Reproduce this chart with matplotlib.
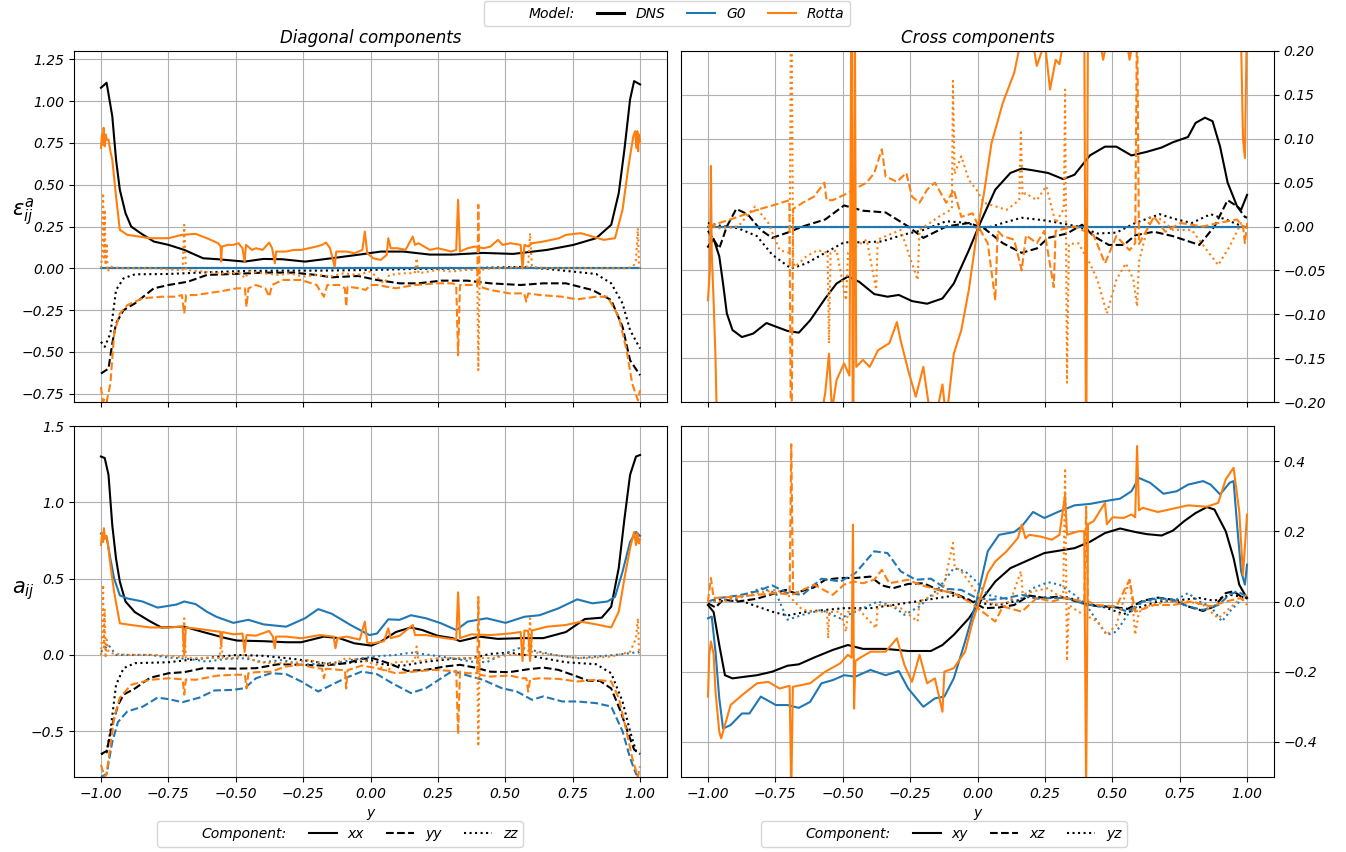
import matplotlib
matplotlib.use('Agg')
import matplotlib.pyplot as plt
from matplotlib.lines import Line2D

plt.rcParams['font.family'] = ['DejaVu Sans']
plt.rcParams['font.style'] = 'italic'
plt.rcParams['mathtext.fontset'] = 'dejavusans'

# ---------------- labels ----------------
models = ['DNS', 'G0', 'Rotta']
diag_components = ['xx', 'yy', 'zz']
cross_components = ['xy', 'xz', 'yz']
x_ticks = [-1.0, -0.75, -0.5, -0.25, 0.0, 0.25, 0.5, 0.75, 1.0]
tl_yticks = [-0.75, -0.5, -0.25, 0.0, 0.25, 0.5, 0.75, 1.0, 1.25]
tr_yticks = [-0.2, -0.15, -0.1, -0.05, 0.0, 0.05, 0.1, 0.15, 0.2]
bl_yticks = [-0.5, 0.0, 0.5, 1.0, 1.5]
br_yticks = [-0.4, -0.2, 0.0, 0.2, 0.4]

# ================= TOP-LEFT: eps^a diagonal =================
pos_tl_dns_xx = [-1.0, -0.979, -0.958, -0.944, -0.93, -0.909, -0.888, -0.853, -0.804, -0.749, -0.691, -0.621, -0.565, -0.467, -0.397, -0.327, -0.243, -0.144, -0.032, 0.038, 0.122, 0.22, 0.304, 0.417, 0.529, 0.655, 0.753, 0.837, 0.893, 0.921, 0.942, 0.963, 0.978, 1.0]
tl_dns_xx = [1.08, 1.11, 0.91, 0.65, 0.47, 0.33, 0.25, 0.21, 0.16, 0.14, 0.11, 0.06, 0.054, 0.04, 0.056, 0.054, 0.04, 0.06, 0.084, 0.10, 0.10, 0.082, 0.082, 0.092, 0.086, 0.11, 0.14, 0.18, 0.26, 0.45, 0.71, 1.01, 1.12, 1.10]
pos_tl_dns_yy = [-1.0, -0.972, -0.958, -0.944, -0.916, -0.874, -0.804, -0.749, -0.677, -0.607, -0.509, -0.397, -0.285, -0.201, -0.144, -0.046, 0.024, 0.108, 0.178, 0.262, 0.36, 0.445, 0.557, 0.641, 0.725, 0.823, 0.893, 0.935, 0.963, 1.0]
tl_dns_yy = [-0.63, -0.60, -0.45, -0.33, -0.25, -0.21, -0.12, -0.10, -0.08, -0.04, -0.034, -0.026, -0.026, -0.04, -0.054, -0.046, -0.07, -0.09, -0.09, -0.074, -0.074, -0.09, -0.10, -0.09, -0.09, -0.13, -0.19, -0.35, -0.55, -0.64]
pos_tl_dns_zz = [-1.0, -0.986, -0.965, -0.944, -0.916, -0.874, -0.749, -0.607, -0.467, -0.327, -0.187, 0.0, 0.164, 0.304, 0.445, 0.557, 0.655, 0.753, 0.837, 0.893, 0.935, 0.963, 1.0]
tl_dns_zz = [-0.44, -0.47, -0.39, -0.13, -0.06, -0.036, -0.034, -0.024, -0.016, -0.014, -0.014, -0.01, -0.004, -0.002, 0.004, 0.008, -0.004, -0.02, -0.034, -0.09, -0.21, -0.37, -0.48]

pos_g0_zero = [-1.0, 1.0]
tl_g0_xx = [0.0, 0.0]
tl_g0_yy = [0.0, 0.0]
tl_g0_zz = [0.0, 0.0]

pos_tl_rot_xx = [-1.0, -0.996, -0.993, -0.99, -0.986, -0.982, -0.979, -0.972, -0.965, -0.958, -0.944, -0.93, -0.902, -0.818, -0.749, -0.70, -0.649, -0.607, -0.565, -0.556, -0.554, -0.551, -0.53, -0.509, -0.49, -0.475, -0.467, -0.462, -0.44, -0.425, -0.40, -0.376, -0.365, -0.355, -0.35, -0.313, -0.285, -0.257, -0.229, -0.201, -0.18, -0.165, -0.15, -0.133, -0.127, -0.088, -0.06, -0.03, -0.021, -0.012, 0.01, 0.038, 0.06, 0.066, 0.075, 0.10, 0.13, 0.157, 0.165, 0.178, 0.22, 0.25, 0.276, 0.30, 0.318, 0.325, 0.332, 0.36, 0.388, 0.42, 0.445, 0.473, 0.49, 0.52, 0.557, 0.564, 0.571, 0.585, 0.60, 0.641, 0.70, 0.725, 0.781, 0.823, 0.865, 0.907, 0.935, 0.957, 0.975, 0.982, 0.986, 0.99, 0.993, 0.996, 1.0]
tl_rot_xx = [0.72, 0.80, 0.74, 0.84, 0.73, 0.80, 0.77, 0.77, 0.70, 0.65, 0.43, 0.23, 0.20, 0.18, 0.18, 0.20, 0.206, 0.18, 0.15, 0.13, 0.04, 0.13, 0.14, 0.14, 0.15, 0.12, 0.04, 0.14, 0.11, 0.12, 0.11, 0.154, 0.12, 0.03, 0.10, 0.10, 0.11, 0.11, 0.12, 0.13, 0.14, 0.154, 0.12, 0.01, 0.10, 0.10, 0.09, 0.11, 0.22, 0.09, 0.06, 0.05, 0.08, 0.18, 0.12, 0.12, 0.11, 0.19, 0.14, 0.15, 0.11, 0.12, 0.11, 0.10, 0.11, 0.41, 0.10, 0.12, 0.13, 0.12, 0.13, 0.17, 0.14, 0.15, 0.14, 0.0, 0.14, 0.13, 0.15, 0.16, 0.18, 0.20, 0.21, 0.19, 0.17, 0.18, 0.35, 0.61, 0.79, 0.82, 0.72, 0.82, 0.70, 0.80, 0.76]
pos_tl_rot_yy = [-1.0, -0.993, -0.986, -0.979, -0.965, -0.951, -0.93, -0.902, -0.846, -0.776, -0.72, -0.70, -0.691, -0.684, -0.649, -0.565, -0.495, -0.466, -0.46, -0.453, -0.425, -0.39, -0.376, -0.365, -0.327, -0.257, -0.2, -0.173, -0.16, -0.116, -0.095, -0.09, -0.085, -0.04, -0.018, 0.0, 0.024, 0.094, 0.164, 0.248, 0.304, 0.318, 0.325, 0.332, 0.37, 0.396, 0.40, 0.405, 0.445, 0.515, 0.57, 0.578, 0.585, 0.627, 0.711, 0.767, 0.837, 0.879, 0.921, 0.95, 0.971, 0.992, 1.0]
tl_rot_yy = [-0.71, -0.80, -0.78, -0.80, -0.69, -0.39, -0.27, -0.22, -0.18, -0.17, -0.17, -0.16, -0.27, -0.16, -0.16, -0.14, -0.12, -0.12, -0.23, -0.12, -0.10, -0.12, -0.17, -0.10, -0.07, -0.07, -0.10, -0.17, -0.10, -0.10, -0.12, -0.23, -0.11, -0.12, -0.13, -0.10, -0.10, -0.12, -0.10, -0.09, -0.09, -0.10, -0.52, -0.10, -0.10, -0.10, 0.38, -0.11, -0.13, -0.15, -0.15, -0.20, -0.15, -0.16, -0.17, -0.186, -0.17, -0.17, -0.29, -0.49, -0.69, -0.79, -0.73]
pos_tl_rot_zz = [-1.0, -0.995, -0.992, -0.989, -0.986, -0.983, -0.979, -0.975, -0.965, -0.93, -0.80, -0.72, -0.697, -0.691, -0.685, -0.62, -0.55, -0.48, -0.467, -0.45, -0.40, -0.34, -0.30, -0.25, -0.20, -0.15, -0.10, -0.05, 0.0, 0.05, 0.07, 0.12, 0.164, 0.171, 0.178, 0.25, 0.30, 0.35, 0.396, 0.40, 0.405, 0.45, 0.52, 0.585, 0.592, 0.599, 0.65, 0.75, 0.85, 0.95, 0.975, 0.985, 0.992, 0.996, 1.0]
tl_rot_zz = [0.0, 0.10, 0.45, 0.05, 0.35, 0.02, 0.15, -0.02, 0.01, 0.0, 0.0, -0.01, -0.01, 0.26, -0.01, -0.02, -0.03, -0.03, -0.06, -0.02, -0.03, -0.04, -0.03, -0.05, -0.04, -0.05, -0.03, -0.04, -0.02, -0.09, -0.04, -0.03, -0.03, 0.06, -0.03, -0.01, -0.02, -0.01, -0.01, -0.61, -0.01, 0.0, 0.005, 0.01, 0.21, 0.01, 0.0, 0.0, 0.0, 0.0, 0.01, 0.05, 0.24, 0.02, 0.0]

# ================= TOP-RIGHT: eps^a cross =================
pos_tr_dns_xy = [-1.0, -0.979, -0.958, -0.944, -0.93, -0.909, -0.874, -0.832, -0.783, -0.749, -0.705, -0.663, -0.621, -0.565, -0.523, -0.481, -0.439, -0.383, -0.334, -0.292, -0.243, -0.187, -0.13, -0.088, -0.032, 0.01, 0.066, 0.122, 0.164, 0.206, 0.262, 0.318, 0.36, 0.417, 0.473, 0.515, 0.571, 0.627, 0.683, 0.725, 0.781, 0.809, 0.844, 0.872, 0.9, 0.928, 0.963, 0.978, 1.0]
tr_dns_xy = [-0.023, -0.014, -0.034, -0.065, -0.099, -0.118, -0.126, -0.122, -0.11, -0.114, -0.119, -0.121, -0.107, -0.082, -0.065, -0.057, -0.063, -0.077, -0.08, -0.078, -0.085, -0.088, -0.082, -0.065, -0.027, 0.004, 0.042, 0.061, 0.066, 0.064, 0.061, 0.054, 0.059, 0.081, 0.091, 0.091, 0.081, 0.085, 0.09, 0.096, 0.102, 0.118, 0.124, 0.12, 0.091, 0.05, 0.023, 0.019, 0.036]
pos_tr_dns_xz = [-1.0, -0.958, -0.93, -0.895, -0.853, -0.804, -0.762, -0.705, -0.649, -0.565, -0.495, -0.425, -0.341, -0.257, -0.201, -0.116, -0.032, 0.024, 0.094, 0.164, 0.22, 0.262, 0.332, 0.388, 0.431, 0.487, 0.543, 0.585, 0.655, 0.725, 0.823, 0.879, 0.928, 0.963, 0.992, 1.0]
tr_dns_xz = [-0.005, -0.025, 0.0, 0.02, 0.014, -0.004, -0.013, -0.007, 0.0, 0.008, 0.024, 0.018, 0.016, 0.0, -0.013, 0.0, 0.004, -0.002, -0.019, -0.03, -0.025, -0.013, -0.008, 0.002, -0.011, -0.021, -0.021, -0.01, -0.006, -0.011, -0.021, 0.0, 0.03, 0.023, 0.011, 0.01]
pos_tr_dns_yz = [-1.0, -0.958, -0.888, -0.818, -0.762, -0.691, -0.635, -0.565, -0.495, -0.425, -0.355, -0.271, -0.201, -0.116, -0.032, 0.01, 0.094, 0.164, 0.248, 0.304, 0.374, 0.445, 0.515, 0.585, 0.676, 0.739, 0.795, 0.865, 0.921, 1.0]
tr_dns_yz = [0.004, 0.001, -0.002, -0.011, -0.032, -0.048, -0.042, -0.03, -0.018, -0.018, -0.017, -0.009, -0.004, 0.006, 0.004, -0.004, 0.004, 0.01, 0.007, 0.004, 0.0, -0.008, -0.007, 0.004, 0.014, 0.008, 0.004, 0.014, 0.008, -0.002]

tr_g0_xy = [0.0, 0.0]
tr_g0_xz = [0.0, 0.0]
tr_g0_yz = [0.0, 0.0]

pos_tr_rot_xy = [-1.0, -0.993, -0.989, -0.986, -0.979, -0.972, -0.965, -0.93, -0.85, -0.75, -0.65, -0.60, -0.565, -0.551, -0.54, -0.523, -0.495, -0.475, -0.467, -0.462, -0.455, -0.45, -0.425, -0.40, -0.369, -0.327, -0.299, -0.285, -0.257, -0.229, -0.201, -0.173, -0.15, -0.13, -0.116, -0.088, -0.06, -0.032, -0.004, 0.024, 0.052, 0.094, 0.136, 0.16, 0.20, 0.22, 0.25, 0.269, 0.29, 0.304, 0.33, 0.37, 0.396, 0.403, 0.41, 0.45, 0.466, 0.50, 0.55, 0.564, 0.60, 0.70, 0.80, 0.90, 0.96, 0.978, 0.985, 0.992, 1.0]
tr_rot_xy = [-0.084, -0.05, 0.069, -0.03, -0.085, -0.15, -0.25, -0.30, -0.32, -0.30, -0.28, -0.25, -0.19, -0.145, -0.21, -0.175, -0.156, -0.17, 0.30, -0.35, 0.25, -0.16, -0.152, -0.16, -0.141, -0.133, -0.109, -0.13, -0.164, -0.194, -0.16, -0.22, -0.21, -0.18, -0.22, -0.145, -0.118, -0.072, -0.011, 0.038, 0.095, 0.141, 0.175, 0.21, 0.22, 0.183, 0.21, 0.156, 0.19, 0.185, 0.23, 0.25, 0.25, -0.30, 0.25, 0.22, 0.19, 0.24, 0.22, 0.19, 0.25, 0.28, 0.27, 0.26, 0.25, 0.21, 0.10, 0.078, 0.25]
pos_tr_rot_xz = [-1.0, -0.958, -0.888, -0.818, -0.749, -0.698, -0.691, -0.684, -0.649, -0.607, -0.568, -0.56, -0.537, -0.495, -0.46, -0.411, -0.383, -0.355, -0.341, -0.299, -0.264, -0.243, -0.215, -0.187, -0.158, -0.116, -0.088, -0.06, -0.018, 0.01, 0.038, 0.066, 0.075, 0.094, 0.136, 0.164, 0.18, 0.22, 0.248, 0.283, 0.29, 0.304, 0.36, 0.431, 0.473, 0.515, 0.564, 0.585, 0.592, 0.599, 0.655, 0.697, 0.753, 0.837, 0.893, 0.963, 0.985, 0.992, 1.0]
tr_rot_xz = [0.0, 0.004, 0.011, 0.019, 0.025, 0.03, -0.30, 0.02, 0.027, 0.034, 0.05, 0.03, 0.03, 0.036, 0.042, 0.05, 0.061, 0.088, 0.057, 0.051, 0.061, 0.034, 0.027, 0.042, 0.05, 0.027, 0.042, 0.011, 0.015, -0.004, -0.019, -0.084, -0.005, -0.011, -0.015, -0.05, -0.01, -0.019, -0.005, -0.069, -0.005, -0.004, 0.0, -0.01, -0.042, -0.011, -0.027, -0.019, 0.25, -0.02, 0.011, -0.006, 0.004, 0.0, 0.004, 0.008, 0.0, -0.019, 0.004]
pos_tr_rot_yz = [-1.0, -0.958, -0.888, -0.825, -0.776, -0.734, -0.697, -0.691, -0.684, -0.677, -0.635, -0.593, -0.556, -0.551, -0.545, -0.523, -0.488, -0.48, -0.453, -0.411, -0.376, -0.37, -0.341, -0.285, -0.222, -0.215, -0.144, -0.095, -0.091, -0.085, -0.06, -0.032, -0.004, 0.024, 0.066, 0.108, 0.155, 0.161, 0.167, 0.178, 0.22, 0.255, 0.29, 0.32, 0.325, 0.332, 0.339, 0.374, 0.417, 0.445, 0.48, 0.515, 0.55, 0.578, 0.592, 0.599, 0.641, 0.683, 0.725, 0.795, 0.851, 0.893, 0.935, 0.978, 1.0]
tr_rot_yz = [0.002, -0.002, 0.0, 0.023, 0.004, -0.027, -0.03, 0.30, -0.04, -0.046, -0.034, -0.027, -0.03, -0.133, -0.03, -0.027, -0.084, -0.03, -0.023, -0.015, -0.072, -0.015, -0.011, -0.004, -0.061, -0.004, 0.011, 0.02, 0.166, 0.06, 0.08, 0.053, 0.042, 0.027, 0.023, 0.019, 0.03, 0.11, 0.035, 0.038, 0.03, 0.046, 0.004, 0.02, 0.156, -0.178, -0.02, -0.019, -0.042, -0.061, -0.099, -0.061, -0.042, -0.06, -0.091, -0.04, 0.011, 0.008, -0.004, -0.004, -0.027, -0.044, -0.023, 0.004, -0.004]

# ================= BOTTOM-LEFT: a_ij diagonal =================
pos_bl_dns_xx = [-1.0, -0.986, -0.972, -0.958, -0.944, -0.93, -0.909, -0.874, -0.818, -0.776, -0.691, -0.621, -0.537, -0.495, -0.397, -0.313, -0.257, -0.173, -0.116, -0.06, 0.003, 0.038, 0.094, 0.15, 0.192, 0.248, 0.304, 0.332, 0.403, 0.473, 0.557, 0.641, 0.725, 0.795, 0.858, 0.893, 0.921, 0.942, 0.963, 0.985, 1.0]
bl_dns_xx = [1.30, 1.29, 1.18, 0.85, 0.63, 0.48, 0.35, 0.28, 0.22, 0.18, 0.185, 0.15, 0.11, 0.094, 0.09, 0.083, 0.083, 0.12, 0.11, 0.076, 0.061, 0.087, 0.15, 0.18, 0.163, 0.126, 0.11, 0.09, 0.12, 0.105, 0.11, 0.11, 0.15, 0.235, 0.244, 0.316, 0.57, 0.89, 1.18, 1.30, 1.31]
pos_bl_dns_yy = [-1.0, -0.979, -0.958, -0.937, -0.916, -0.874, -0.818, -0.749, -0.691, -0.621, -0.495, -0.425, -0.341, -0.257, -0.173, -0.088, -0.032, 0.01, 0.066, 0.136, 0.206, 0.276, 0.332, 0.388, 0.445, 0.515, 0.585, 0.641, 0.697, 0.767, 0.809, 0.851, 0.893, 0.928, 0.957, 0.978, 1.0]
bl_dns_yy = [-0.65, -0.63, -0.46, -0.33, -0.26, -0.22, -0.15, -0.12, -0.113, -0.087, -0.09, -0.087, -0.061, -0.065, -0.07, -0.054, -0.026, -0.022, -0.054, -0.105, -0.098, -0.076, -0.065, -0.083, -0.11, -0.113, -0.094, -0.083, -0.098, -0.142, -0.17, -0.17, -0.22, -0.37, -0.52, -0.62, -0.65]
pos_bl_dns_zz = [-1.0, -0.979, -0.965, -0.944, -0.916, -0.874, -0.749, -0.621, -0.495, -0.397, -0.285, -0.144, -0.06, 0.003, 0.052, 0.122, 0.206, 0.304, 0.374, 0.445, 0.515, 0.585, 0.725, 0.837, 0.893, 0.935, 0.963, 0.985, 1.0]
bl_dns_zz = [-0.65, -0.64, -0.50, -0.196, -0.087, -0.054, -0.048, -0.022, 0.0, -0.006, -0.026, -0.061, -0.048, -0.035, -0.065, -0.07, -0.044, -0.026, -0.022, 0.007, 0.015, -0.004, -0.048, -0.061, -0.12, -0.305, -0.50, -0.63, -0.64]

pos_bl_g0_xx = [-1.0, -0.979, -0.965, -0.951, -0.93, -0.902, -0.846, -0.79, -0.72, -0.691, -0.649, -0.607, -0.572, -0.509, -0.453, -0.397, -0.313, -0.243, -0.194, -0.144, -0.074, -0.004, 0.024, 0.066, 0.108, 0.15, 0.206, 0.262, 0.318, 0.36, 0.431, 0.501, 0.571, 0.627, 0.697, 0.767, 0.823, 0.879, 0.907, 0.935, 0.963, 0.985, 1.0]
bl_g0_xx = [0.795, 0.77, 0.63, 0.50, 0.39, 0.37, 0.35, 0.31, 0.33, 0.35, 0.333, 0.283, 0.25, 0.21, 0.23, 0.20, 0.185, 0.24, 0.30, 0.27, 0.196, 0.13, 0.14, 0.233, 0.23, 0.26, 0.24, 0.207, 0.163, 0.218, 0.24, 0.21, 0.25, 0.26, 0.305, 0.364, 0.338, 0.35, 0.38, 0.545, 0.74, 0.806, 0.78]
pos_bl_g0_yy = [-1.0, -0.979, -0.958, -0.937, -0.902, -0.846, -0.79, -0.748, -0.698, -0.635, -0.579, -0.509, -0.467, -0.425, -0.369, -0.313, -0.257, -0.194, -0.144, -0.088, -0.032, 0.024, 0.08, 0.15, 0.206, 0.262, 0.304, 0.36, 0.417, 0.487, 0.543, 0.599, 0.641, 0.711, 0.767, 0.837, 0.893, 0.935, 0.963, 0.985, 1.0]
bl_g0_yy = [-0.80, -0.78, -0.57, -0.44, -0.37, -0.34, -0.28, -0.29, -0.31, -0.28, -0.233, -0.229, -0.218, -0.153, -0.12, -0.126, -0.174, -0.24, -0.196, -0.148, -0.109, -0.126, -0.185, -0.25, -0.218, -0.153, -0.105, -0.135, -0.163, -0.218, -0.24, -0.294, -0.272, -0.305, -0.305, -0.316, -0.338, -0.50, -0.675, -0.78, -0.80]
pos_bl_g0_zz = [-1.0, -0.972, -0.944, -0.888, -0.818, -0.748, -0.677, -0.607, -0.537, -0.467, -0.397, -0.327, -0.257, -0.187, -0.116, -0.032, 0.024, 0.094, 0.15, 0.22, 0.304, 0.374, 0.431, 0.487, 0.557, 0.613, 0.683, 0.767, 0.837, 0.907, 0.963, 0.992, 1.0]
bl_g0_zz = [0.02, 0.065, 0.0, 0.0, 0.0, -0.017, -0.026, -0.044, -0.026, -0.022, -0.048, -0.033, -0.065, -0.057, -0.048, -0.022, -0.009, 0.0, 0.015, 0.0, -0.022, -0.044, -0.048, 0.0, 0.048, 0.026, 0.0, -0.022, -0.011, 0.0, 0.011, 0.02, 0.01]

pos_bl_rot_xx = [-1.0, -0.995, -0.992, -0.989, -0.985, -0.979, -0.972, -0.965, -0.951, -0.93, -0.888, -0.818, -0.748, -0.697, -0.691, -0.685, -0.635, -0.565, -0.558, -0.554, -0.55, -0.509, -0.475, -0.467, -0.46, -0.425, -0.376, -0.362, -0.355, -0.35, -0.313, -0.257, -0.187, -0.137, -0.13, -0.123, -0.088, -0.04, -0.021, -0.012, 0.01, 0.05, 0.066, 0.075, 0.108, 0.157, 0.165, 0.206, 0.276, 0.318, 0.325, 0.332, 0.374, 0.445, 0.515, 0.557, 0.564, 0.571, 0.585, 0.592, 0.599, 0.655, 0.725, 0.781, 0.837, 0.893, 0.921, 0.942, 0.963, 0.978, 0.985, 0.99, 0.995, 1.0]
bl_rot_xx = [0.72, 0.80, 0.74, 0.83, 0.76, 0.78, 0.70, 0.59, 0.41, 0.207, 0.196, 0.18, 0.18, 0.186, 0.0, 0.18, 0.17, 0.153, 0.153, 0.065, 0.15, 0.135, 0.14, 0.02, 0.13, 0.126, 0.157, 0.12, 0.044, 0.12, 0.12, 0.109, 0.13, 0.12, 0.044, 0.11, 0.12, 0.10, 0.218, 0.08, 0.076, 0.09, 0.174, 0.11, 0.126, 0.196, 0.13, 0.13, 0.11, 0.10, 0.41, 0.11, 0.135, 0.13, 0.14, 0.15, -0.04, 0.16, 0.157, -0.04, 0.16, 0.185, 0.196, 0.218, 0.20, 0.18, 0.283, 0.50, 0.70, 0.806, 0.72, 0.80, 0.73, 0.76]
pos_bl_rot_yy = [-1.0, -0.986, -0.979, -0.965, -0.951, -0.93, -0.888, -0.818, -0.748, -0.697, -0.691, -0.685, -0.649, -0.565, -0.495, -0.466, -0.46, -0.453, -0.425, -0.369, -0.313, -0.257, -0.201, -0.18, -0.173, -0.165, -0.116, -0.095, -0.09, -0.085, -0.032, 0.024, 0.094, 0.164, 0.234, 0.304, 0.318, 0.325, 0.332, 0.36, 0.396, 0.40, 0.405, 0.445, 0.515, 0.564, 0.578, 0.585, 0.592, 0.627, 0.697, 0.767, 0.837, 0.893, 0.921, 0.95, 0.971, 0.992, 1.0]
bl_rot_yy = [-0.72, -0.80, -0.78, -0.59, -0.41, -0.28, -0.196, -0.163, -0.153, -0.16, -0.26, -0.16, -0.163, -0.135, -0.13, -0.13, -0.22, -0.12, -0.113, -0.11, -0.076, -0.065, -0.087, -0.09, -0.153, -0.09, -0.098, -0.10, -0.22, -0.10, -0.07, -0.087, -0.12, -0.109, -0.098, -0.105, -0.105, -0.52, -0.11, -0.12, -0.12, 0.38, -0.13, -0.142, -0.135, -0.153, -0.153, -0.24, -0.16, -0.153, -0.157, -0.174, -0.163, -0.174, -0.283, -0.50, -0.675, -0.80, -0.73]
pos_bl_rot_zz = [-1.0, -0.995, -0.992, -0.989, -0.986, -0.983, -0.979, -0.972, -0.958, -0.9, -0.80, -0.72, -0.697, -0.691, -0.685, -0.607, -0.56, -0.554, -0.548, -0.509, -0.467, -0.425, -0.369, -0.285, -0.229, -0.144, -0.091, -0.032, 0.024, 0.066, 0.08, 0.136, 0.164, 0.171, 0.178, 0.248, 0.304, 0.396, 0.40, 0.405, 0.445, 0.515, 0.585, 0.592, 0.599, 0.669, 0.795, 0.893, 0.963, 0.985, 0.992, 0.996, 1.0]
bl_rot_zz = [0.0, 0.15, 0.46, 0.05, 0.30, -0.02, 0.10, 0.02, 0.01, 0.0, 0.0, -0.01, -0.02, 0.24, -0.02, -0.02, -0.02, 0.087, -0.02, -0.02, 0.0, -0.044, -0.054, -0.054, -0.033, -0.065, -0.022, -0.033, -0.065, -0.11, -0.05, -0.044, -0.04, 0.055, -0.04, -0.022, -0.022, -0.02, -0.60, -0.02, -0.022, 0.0, 0.0, 0.24, 0.02, 0.0, -0.022, -0.011, 0.02, 0.11, 0.24, 0.04, 0.0]

# ================= BOTTOM-RIGHT: a_ij cross =================
pos_br_dns_xy = [-1.0, -0.979, -0.958, -0.937, -0.909, -0.86, -0.818, -0.762, -0.705, -0.663, -0.607, -0.537, -0.481, -0.425, -0.341, -0.257, -0.173, -0.13, -0.088, -0.032, 0.01, 0.066, 0.122, 0.192, 0.248, 0.304, 0.36, 0.417, 0.473, 0.529, 0.585, 0.627, 0.683, 0.725, 0.767, 0.809, 0.851, 0.879, 0.921, 0.95, 0.971, 0.985, 1.0]
br_dns_xy = [-0.01, -0.03, -0.124, -0.21, -0.219, -0.214, -0.21, -0.20, -0.183, -0.179, -0.16, -0.138, -0.124, -0.135, -0.135, -0.141, -0.141, -0.124, -0.095, -0.048, 0.0, 0.057, 0.095, 0.119, 0.138, 0.145, 0.152, 0.17, 0.195, 0.208, 0.198, 0.192, 0.188, 0.202, 0.229, 0.252, 0.269, 0.262, 0.20, 0.124, 0.048, 0.029, 0.01]
pos_br_dns_xz = [-1.0, -0.972, -0.944, -0.888, -0.818, -0.749, -0.712, -0.677, -0.607, -0.565, -0.509, -0.453, -0.397, -0.355, -0.313, -0.257, -0.201, -0.144, -0.088, -0.032, 0.024, 0.08, 0.136, 0.192, 0.248, 0.304, 0.36, 0.417, 0.473, 0.515, 0.557, 0.613, 0.669, 0.725, 0.781, 0.837, 0.879, 0.921, 0.95, 0.978, 1.0]
br_dns_xz = [-0.005, -0.017, 0.005, 0.0, 0.008, 0.024, 0.033, 0.024, 0.04, 0.062, 0.067, 0.067, 0.071, 0.046, 0.038, 0.05, 0.052, 0.033, 0.024, 0.005, -0.019, -0.017, -0.01, 0.017, 0.01, 0.014, 0.002, -0.011, -0.014, -0.017, -0.021, 0.002, 0.011, 0.005, -0.014, -0.027, -0.014, 0.024, 0.029, 0.014, 0.01]
pos_br_dns_yz = [-1.0, -0.958, -0.888, -0.818, -0.762, -0.705, -0.635, -0.565, -0.495, -0.397, -0.313, -0.229, -0.144, -0.088, -0.032, 0.01, 0.08, 0.136, 0.192, 0.276, 0.332, 0.403, 0.473, 0.543, 0.599, 0.669, 0.739, 0.823, 0.879, 0.935, 0.978, 1.0]
br_dns_yz = [0.0, 0.005, 0.005, -0.014, -0.029, -0.04, -0.029, -0.024, -0.019, -0.019, -0.01, 0.0, 0.01, 0.017, 0.005, -0.005, -0.01, 0.0, 0.014, 0.01, 0.012, -0.005, -0.017, -0.036, -0.017, 0.0, 0.003, 0.01, 0.002, 0.019, 0.014, 0.008]

pos_br_g0_xy = [-1.0, -0.986, -0.972, -0.958, -0.944, -0.916, -0.874, -0.846, -0.804, -0.748, -0.705, -0.663, -0.621, -0.579, -0.537, -0.495, -0.453, -0.397, -0.341, -0.292, -0.257, -0.201, -0.158, -0.123, -0.088, -0.046, -0.004, 0.038, 0.08, 0.136, 0.164, 0.206, 0.248, 0.304, 0.36, 0.417, 0.473, 0.529, 0.571, 0.599, 0.641, 0.69, 0.739, 0.781, 0.837, 0.865, 0.9, 0.935, 0.95, 0.963, 0.978, 0.992, 1.0]
br_g0_xy = [-0.048, -0.043, -0.143, -0.276, -0.362, -0.352, -0.319, -0.319, -0.271, -0.295, -0.295, -0.303, -0.286, -0.233, -0.224, -0.21, -0.214, -0.195, -0.21, -0.198, -0.248, -0.30, -0.276, -0.271, -0.219, -0.114, 0.0, 0.143, 0.19, 0.198, 0.214, 0.255, 0.238, 0.257, 0.274, 0.278, 0.286, 0.293, 0.314, 0.352, 0.338, 0.307, 0.314, 0.333, 0.343, 0.333, 0.305, 0.338, 0.343, 0.219, 0.086, 0.048, 0.105]
pos_br_g0_xz = [-1.0, -0.958, -0.888, -0.818, -0.762, -0.705, -0.649, -0.579, -0.509, -0.453, -0.383, -0.334, -0.285, -0.229, -0.173, -0.116, -0.06, -0.004, 0.052, 0.108, 0.164, 0.22, 0.276, 0.332, 0.388, 0.445, 0.501, 0.557, 0.613, 0.669, 0.725, 0.781, 0.837, 0.893, 0.935, 0.963, 1.0]
br_g0_xz = [0.0, 0.01, 0.017, 0.029, 0.046, 0.024, 0.019, 0.065, 0.057, 0.081, 0.143, 0.138, 0.086, 0.062, 0.065, 0.036, 0.033, 0.01, 0.005, 0.01, 0.019, 0.008, 0.01, 0.01, -0.005, -0.014, -0.014, -0.029, 0.0, 0.01, 0.005, -0.014, -0.024, -0.01, 0.019, 0.029, 0.014]
pos_br_g0_yz = [-1.0, -0.958, -0.888, -0.804, -0.748, -0.705, -0.649, -0.579, -0.509, -0.439, -0.369, -0.313, -0.271, -0.215, -0.144, -0.088, -0.046, -0.004, 0.038, 0.094, 0.15, 0.206, 0.262, 0.304, 0.36, 0.403, 0.445, 0.48, 0.515, 0.557, 0.613, 0.669, 0.725, 0.781, 0.823, 0.865, 0.907, 0.935, 0.978, 1.0]
br_g0_yz = [0.0, 0.0, 0.01, 0.038, 0.024, -0.052, -0.038, -0.024, -0.048, -0.024, 0.0, -0.014, -0.038, -0.014, 0.038, 0.095, 0.086, 0.057, 0.019, 0.01, 0.0, 0.038, 0.055, 0.048, 0.019, -0.01, -0.057, -0.095, -0.086, -0.038, 0.0, 0.005, 0.0, 0.024, 0.0, -0.014, -0.057, -0.029, 0.005, 0.01]

pos_br_rot_xy = [-1.0, -0.995, -0.989, -0.979, -0.972, -0.958, -0.951, -0.937, -0.916, -0.874, -0.818, -0.776, -0.734, -0.697, -0.691, -0.685, -0.621, -0.565, -0.509, -0.481, -0.467, -0.462, -0.458, -0.453, -0.439, -0.397, -0.341, -0.299, -0.271, -0.243, -0.215, -0.187, -0.158, -0.13, -0.123, -0.088, -0.046, -0.018, 0.01, 0.038, 0.066, 0.108, 0.15, 0.164, 0.178, 0.192, 0.234, 0.276, 0.304, 0.325, 0.332, 0.374, 0.396, 0.403, 0.41, 0.431, 0.473, 0.48, 0.501, 0.543, 0.571, 0.585, 0.592, 0.599, 0.613, 0.669, 0.711, 0.781, 0.851, 0.893, 0.921, 0.95, 0.971, 0.985, 1.0]
br_rot_xy = [-0.271, -0.15, -0.114, -0.15, -0.257, -0.371, -0.39, -0.352, -0.295, -0.267, -0.233, -0.229, -0.248, -0.24, -0.55, -0.243, -0.233, -0.20, -0.176, -0.152, -0.16, 0.219, -0.305, -0.17, -0.162, -0.143, -0.143, -0.105, -0.181, -0.229, -0.152, -0.233, -0.219, -0.314, -0.2, -0.19, -0.143, -0.057, 0.01, 0.081, 0.114, 0.143, 0.181, 0.219, 0.18, 0.19, 0.185, 0.176, 0.19, 0.305, 0.19, 0.2, 0.2, -0.55, 0.22, 0.229, 0.281, 0.22, 0.24, 0.238, 0.248, 0.24, 0.443, 0.26, 0.267, 0.255, 0.262, 0.274, 0.27, 0.281, 0.348, 0.381, 0.257, 0.076, 0.248]
pos_br_rot_xz = [-1.0, -0.989, -0.979, -0.888, -0.818, -0.748, -0.697, -0.691, -0.684, -0.607, -0.537, -0.495, -0.46, -0.425, -0.383, -0.355, -0.327, -0.257, -0.215, -0.144, -0.088, -0.032, 0.01, 0.066, 0.094, 0.164, 0.22, 0.276, 0.325, 0.396, 0.403, 0.41, 0.445, 0.515, 0.564, 0.585, 0.655, 0.725, 0.795, 0.865, 0.921, 0.978, 1.0]
br_rot_xz = [0.0, 0.067, 0.01, 0.014, 0.019, 0.024, 0.02, 0.448, 0.02, 0.048, 0.019, 0.048, 0.057, 0.052, 0.062, 0.09, 0.052, 0.062, 0.048, 0.033, 0.024, 0.0, -0.024, -0.057, -0.014, -0.029, 0.01, 0.0, 0.01, 0.0, 0.27, 0.0, -0.01, -0.014, 0.062, -0.029, -0.01, -0.01, 0.0, -0.014, 0.0, 0.01, -0.01]
pos_br_rot_yz = [-1.0, -0.958, -0.888, -0.818, -0.748, -0.705, -0.649, -0.593, -0.558, -0.554, -0.55, -0.509, -0.488, -0.481, -0.439, -0.376, -0.37, -0.341, -0.285, -0.222, -0.215, -0.13, -0.091, -0.085, -0.06, -0.032, 0.01, 0.066, 0.122, 0.161, 0.168, 0.206, 0.262, 0.304, 0.318, 0.325, 0.332, 0.339, 0.374, 0.445, 0.48, 0.515, 0.564, 0.578, 0.585, 0.599, 0.641, 0.711, 0.781, 0.837, 0.893, 0.935, 0.978, 1.0]
br_rot_yz = [0.0, 0.0, 0.01, 0.024, 0.033, 0.02, -0.024, -0.029, -0.03, -0.105, -0.03, -0.029, -0.086, -0.03, -0.024, -0.076, -0.01, -0.01, -0.019, -0.057, 0.0, 0.029, 0.167, 0.1, 0.086, 0.057, 0.01, -0.01, 0.0, 0.086, 0.02, 0.029, 0.038, 0.014, 0.02, 0.38, -0.17, -0.01, -0.029, -0.057, -0.095, -0.067, 0.062, -0.03, -0.095, -0.03, -0.01, 0.0, 0.0, -0.01, -0.048, -0.019, 0.01, 0.019]

# ---------------- styling ----------------
color_dns = 'black'
color_g0 = '#1f77b4'
color_rot = '#ff7f0e'
ls_comp = ['-', '--', ':']

W, H = 1346, 852
fig = plt.figure(figsize=(W / 100, H / 100), dpi=100)


def box(x0, y0, x1, y1):
    return [x0 / W, 1 - y1 / H, (x1 - x0) / W, (y1 - y0) / H]


ax_tl = fig.add_axes(box(74, 51, 667, 402))
ax_tr = fig.add_axes(box(681, 51, 1274, 402), sharex=ax_tl)
ax_bl = fig.add_axes(box(74, 426, 667, 777), sharex=ax_tl)
ax_br = fig.add_axes(box(681, 426, 1274, 777), sharex=ax_tl)

panels = [
    (ax_tl,
     [(pos_tl_dns_xx, tl_dns_xx), (pos_tl_dns_yy, tl_dns_yy), (pos_tl_dns_zz, tl_dns_zz)],
     [(pos_g0_zero, tl_g0_xx), (pos_g0_zero, tl_g0_yy), (pos_g0_zero, tl_g0_zz)],
     [(pos_tl_rot_xx, tl_rot_xx), (pos_tl_rot_yy, tl_rot_yy), (pos_tl_rot_zz, tl_rot_zz)]),
    (ax_tr,
     [(pos_tr_dns_xy, tr_dns_xy), (pos_tr_dns_xz, tr_dns_xz), (pos_tr_dns_yz, tr_dns_yz)],
     [(pos_g0_zero, tr_g0_xy), (pos_g0_zero, tr_g0_xz), (pos_g0_zero, tr_g0_yz)],
     [(pos_tr_rot_xy, tr_rot_xy), (pos_tr_rot_xz, tr_rot_xz), (pos_tr_rot_yz, tr_rot_yz)]),
    (ax_bl,
     [(pos_bl_dns_xx, bl_dns_xx), (pos_bl_dns_yy, bl_dns_yy), (pos_bl_dns_zz, bl_dns_zz)],
     [(pos_bl_g0_xx, bl_g0_xx), (pos_bl_g0_yy, bl_g0_yy), (pos_bl_g0_zz, bl_g0_zz)],
     [(pos_bl_rot_xx, bl_rot_xx), (pos_bl_rot_yy, bl_rot_yy), (pos_bl_rot_zz, bl_rot_zz)]),
    (ax_br,
     [(pos_br_dns_xy, br_dns_xy), (pos_br_dns_xz, br_dns_xz), (pos_br_dns_yz, br_dns_yz)],
     [(pos_br_g0_xy, br_g0_xy), (pos_br_g0_xz, br_g0_xz), (pos_br_g0_yz, br_g0_yz)],
     [(pos_br_rot_xy, br_rot_xy), (pos_br_rot_xz, br_rot_xz), (pos_br_rot_yz, br_rot_yz)]),
]

for ax, dns, g0, rot in panels:
    for (p, v), ls in zip(dns, ls_comp):
        ax.plot(p, v, color=color_dns, ls=ls, lw=1.5)
    for (p, v), ls in zip(g0, ls_comp):
        ax.plot(p, v, color=color_g0, ls=ls, lw=1.5)
    for (p, v), ls in zip(rot, ls_comp):
        ax.plot(p, v, color=color_rot, ls=ls, lw=1.5)
    ax.grid(True)
    ax.set_xlim(-1.1, 1.1)
    ax.set_xticks(x_ticks)

ax_tl.set_ylim(-0.8, 1.3)
ax_tl.set_yticks(tl_yticks)
ax_tr.set_ylim(-0.2, 0.2)
ax_tr.set_yticks(tr_yticks)
ax_bl.set_ylim(-0.8, 1.5)
ax_bl.set_yticks(bl_yticks)
ax_br.set_ylim(-0.5, 0.5)
ax_br.set_yticks(br_yticks)

for ax in (ax_tr, ax_br):
    ax.yaxis.tick_right()
for ax in (ax_tl, ax_tr):
    ax.tick_params(labelbottom=False)

ax_tl.set_title('Diagonal components', fontsize=12)
ax_tr.set_title('Cross components', fontsize=12)
ax_bl.set_xlabel('y')
ax_br.set_xlabel('y')

ax_tl.set_ylabel(r'$\varepsilon_{ij}^{a}$', rotation=0, fontsize=15, ha='center', va='center')
ax_tl.yaxis.set_label_coords(-0.085, 0.54)
ax_bl.set_ylabel(r'$a_{ij}$', rotation=0, fontsize=15, ha='center', va='center')
ax_bl.yaxis.set_label_coords(-0.085, 0.53)

# ---------------- legends ----------------
blank = Line2D([], [], color='none')
model_handles = [blank,
                 Line2D([], [], color=color_dns, lw=2.2),
                 Line2D([], [], color=color_g0, lw=1.5),
                 Line2D([], [], color=color_rot, lw=1.5)]
fig.legend(model_handles, ['Model:'] + models, loc='center', ncol=4,
           bbox_to_anchor=(667 / W, 1 - 13.5 / H), fontsize=10, columnspacing=1.6)

comp_handles = [blank] + [Line2D([], [], color='black', ls=ls, lw=1.5) for ls in ls_comp]
fig.legend(comp_handles, ['Component:'] + diag_components, loc='center', ncol=4,
           bbox_to_anchor=(340 / W, 1 - 834 / H), fontsize=10, columnspacing=1.6)
fig.legend(comp_handles, ['Component:'] + cross_components, loc='center', ncol=4,
           bbox_to_anchor=(944 / W, 1 - 834 / H), fontsize=10, columnspacing=1.6)

fig.savefig('out.png', dpi=100)
